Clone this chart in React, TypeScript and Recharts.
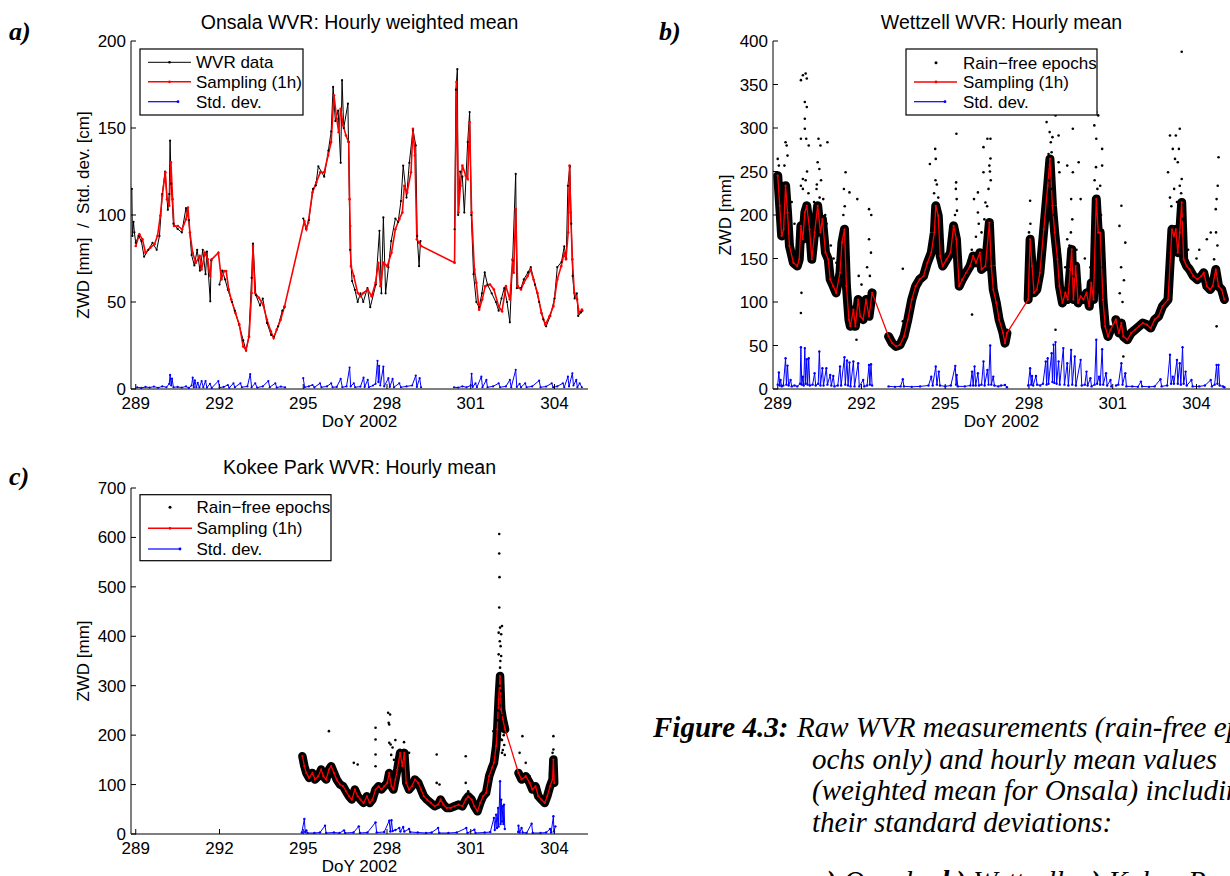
import React from 'react';
import { ComposedChart, Line, Scatter, XAxis, YAxis } from 'recharts';

type P = [number, number | null];

const SANS = '"Liberation Sans", Arial, Helvetica, sans-serif';
const SERIF = '"Liberation Serif", "Times New Roman", serif';

const dayTicks = [289, 292, 295, 298, 301, 304];
const xDomain: [number, number] = [288.83, 305.2];
const onsalaTicks = [0, 50, 100, 150, 200];
const wettzellTicks = [0, 50, 100, 150, 200, 250, 300, 350, 400];
const kokeeTicks = [0, 100, 200, 300, 400, 500, 600, 700];

// ---------- Onsala ----------
const onsalaWvr: P[] = [
  [288.86,115],[288.88,88],[288.92,96],[288.95,90],[289.0,84],[289.1,88],[289.2,85],[289.3,76],[289.45,80],[289.6,84],[289.75,80],[289.85,88],[289.95,112],[290.05,125],[290.15,103],[290.2,112],[290.23,142.8],[290.27,118],[290.35,95],[290.5,92],[290.65,90],[290.8,104],[290.9,97],[291.0,77],[291.1,71],[291.2,80],[291.3,68],[291.4,80],[291.5,66],[291.55,79],[291.67,50.4],[291.7,74],[291.75,null],
  [292.0,60],[292.1,68],[292.2,63],[292.3,57],[292.45,50],[292.55,45],[292.7,37],[292.85,28],[292.95,22],[293.05,30],[293.15,63.9],[293.2,83.5],[293.3,54],[293.45,48],[293.55,52],[293.7,38],[293.85,31],[293.95,30],[294.1,36],[294.25,45],[294.33,47],[294.4,null],
  [295.0,98],[295.1,92],[295.2,97],[295.35,115],[295.45,117],[295.54,128],[295.75,122],[295.9,137],[296.0,148],[296.07,173.6],[296.15,154],[296.25,160],[296.34,130],[296.39,177.5],[296.45,150],[296.6,164],[296.62,142],[296.68,80],[296.75,62],[296.85,57],[296.95,50],[297.05,55],[297.15,50],[297.3,58],[297.4,47],[297.6,60],[297.73,90.9],[297.8,55],[297.87,98.6],[297.95,55],[298.05,70],[298.15,85],[298.3,98],[298.4,96],[298.5,108],[298.58,128.4],[298.7,110],[298.8,130],[298.93,149],[299.03,140],[299.08,88],[299.15,70.6],[299.2,85],[299.25,null],
  [300.42,91.8],[300.47,172],[300.52,183.8],[300.55,100],[300.62,125],[300.7,122],[300.77,101.4],[300.89,141.9],[300.96,159.2],[301.02,100],[301.1,66],[301.2,50],[301.3,47],[301.4,55],[301.5,67],[301.6,60],[301.75,55],[301.9,50],[302.0,45],[302.1,52],[302.2,58],[302.3,50],[302.4,38.3],[302.5,74],[302.61,123.6],[302.65,58],[302.8,58],[302.9,63],[303.05,67],[303.15,70],[303.3,60],[303.45,50],[303.6,40],[303.7,36],[303.85,42],[304.0,52],[304.1,70],[304.25,73],[304.35,82],[304.42,75],[304.48,116.8],[304.55,128],[304.6,95],[304.65,65],[304.72,52],[304.8,55],[304.85,42],[304.95,44],[305.0,45],
];

const onsalaHourly: P[] = [
  [289.00,82.2],[289.13,88.9],[289.24,86.0],[289.35,78.3],[289.52,81.2],[289.67,83.2],[289.78,88.0],[289.88,99.5],[289.95,111.1],[290.06,124.5],[290.12,109.1],[290.20,105.3],[290.26,130.3],[290.32,109.1],[290.37,93.7],[290.51,93.7],[290.66,91.8],[290.80,97.6],[290.87,104.3],[290.94,89.9],[291.04,78.3],[291.15,72.6],[291.29,76.4],[291.36,68.7],[291.48,78.3],[291.58,74.5],[291.66,64.9],[291.72,74.5],[291.96,78.3],[292.07,62.9],[292.17,67.8],[292.24,67.8],[292.33,57.2],[292.42,51.4],[292.57,43.7],[292.71,37.0],[292.85,24.4],[292.95,22.5],[293.06,30.2],[293.15,55.2],[293.20,82.2],[293.27,55.2],[293.41,52.4],[293.56,48.5],[293.70,39.8],[293.84,33.1],[293.94,29.3],[294.05,34.1],[294.19,39.8],[294.33,47.5],
  [295.04,96.6],[295.11,91.8],[295.18,95.7],[295.33,113.0],[295.47,118.8],[295.61,124.5],[295.75,124.5],[295.89,134.2],[296.00,141.9],[296.10,168.8],[296.20,155.3],[296.27,147.6],[296.34,161.1],[296.43,151.5],[296.53,145.7],[296.63,141.9],[296.66,109.1],[296.68,93.7],[296.71,70.6],[296.81,64.9],[296.95,55.2],[297.05,53.3],[297.16,55.2],[297.31,57.2],[297.45,53.3],[297.59,61.0],[297.69,72.6],[297.77,59.1],[297.87,72.6],[298.01,70.6],[298.16,78.3],[298.30,91.8],[298.44,97.6],[298.55,101.4],[298.62,116.8],[298.72,113.0],[298.86,124.5],[298.93,149.6],[299.00,134.2],[299.07,86.0],[299.15,84.1],[299.22,82.2],
  [300.42,72.6],[300.49,176.5],[300.56,101.4],[300.63,116.8],[300.70,128.4],[300.82,122.6],[300.89,120.7],[300.96,153.4],[301.03,101.4],[301.13,68.7],[301.20,61.0],[301.30,45.6],[301.41,51.4],[301.52,59.1],[301.69,60.1],[301.83,57.2],[302.00,47.5],[302.12,44.7],[302.26,59.1],[302.40,51.4],[302.50,74.5],[302.54,66.8],[302.61,103.4],[302.68,59.1],[302.80,57.2],[302.90,61.0],[303.04,64.9],[303.14,68.7],[303.25,62.9],[303.39,55.2],[303.53,43.7],[303.67,37.0],[303.82,41.8],[303.96,47.5],[304.10,62.9],[304.24,70.6],[304.35,78.3],[304.41,74.5],[304.49,89.9],[304.54,128.4],[304.58,101.4],[304.64,74.5],[304.71,55.2],[304.81,51.4],[304.88,43.7],[304.98,45.6],
];

const onsalaStd: P[] = [
  [289.05,1],[289.2,0.6],[289.35,1.2],[289.5,0.8],[289.65,1.4],[289.8,0.7],[289.95,1.5],[290.1,1],[290.2,3],[290.23,8.1],[290.27,2],[290.3,6],[290.35,1],[290.5,1.2],[290.65,0.8],[290.8,1.5],[290.9,0.6],[291.0,2],[291.04,6.5],[291.08,1],[291.12,5],[291.17,1],[291.22,3.6],[291.28,0.9],[291.36,4.6],[291.42,1],[291.5,4.6],[291.55,0.8],[291.66,3],[291.72,0.6],[291.96,4.6],[292.0,0.8],[292.15,1.2],[292.3,2.3],[292.35,0.7],[292.5,3.3],[292.55,1],[292.75,3.3],[292.8,1],[293.0,1.5],[293.1,8.5],[293.15,1],[293.28,3.3],[293.35,0.8],[293.55,1.5],[293.75,4.6],[293.8,1],[294.0,3.3],[294.05,0.8],[294.2,1.4],[294.35,0.9],[294.4,null],
  [295.0,6.2],[295.05,1],[295.2,1.5],[295.33,2.3],[295.4,0.9],[295.6,3.3],[295.65,1],[295.85,1.5],[296.0,3.3],[296.05,1],[296.2,1.2],[296.34,5.8],[296.4,1],[296.55,1.5],[296.66,12.3],[296.7,1.5],[296.81,3.3],[296.86,1],[297.05,1.4],[297.16,6.5],[297.2,1.2],[297.31,5.2],[297.35,1],[297.5,2],[297.59,3],[297.66,16.2],[297.69,4],[297.72,13.3],[297.76,2],[297.87,12.9],[297.9,1.5],[298.05,6.2],[298.1,1.2],[298.2,5.8],[298.25,1],[298.44,3.3],[298.5,1],[298.7,1.5],[298.9,2],[299.03,7.7],[299.07,1.2],[299.17,6.2],[299.22,1],[299.3,null],
  [300.4,1],[300.55,0.8],[300.7,1.5],[300.85,1],[301.0,2],[301.03,8.7],[301.07,1.2],[301.17,3.3],[301.22,1],[301.38,7.1],[301.42,1],[301.56,5.2],[301.6,1],[301.8,1.5],[302.0,3.3],[302.05,1],[302.26,1.5],[302.4,5.2],[302.45,1],[302.61,11],[302.65,1.2],[302.75,3],[302.8,1],[302.95,3.3],[303.0,1],[303.2,1.5],[303.45,4.8],[303.5,1],[303.7,1.4],[303.9,3.3],[303.95,1],[304.1,1.5],[304.3,3.3],[304.35,1],[304.48,7.1],[304.52,1.5],[304.64,9],[304.68,2],[304.78,5.2],[304.82,1],[304.9,3.3],[304.98,1],
];

// ---------- Wettzell ----------
const wettzellHourly: P[] = [
  [289.00,245.2],[289.07,210.6],[289.14,175.9],[289.21,183.6],[289.28,233.7],[289.35,202.9],[289.42,164.4],[289.56,145.1],[289.70,141.3],[289.77,149.0],[289.83,187.5],[289.90,172.1],[289.97,202.9],[290.04,210.6],[290.14,183.6],[290.22,149.0],[290.32,179.8],[290.43,210.6],[290.53,179.8],[290.60,195.2],[290.71,156.7],[290.81,149.0],[290.88,125.9],[290.99,118.2],[291.09,110.5],[291.23,133.6],[291.30,168.2],[291.39,183.6],[291.46,118.2],[291.55,79.7],[291.60,72.0],[291.71,91.2],[291.78,72.0],[291.88,102.8],[291.96,83.5],[292.06,79.7],[292.16,102.8],[292.27,83.5],[292.38,110.5],
  [292.97,60.4],[293.10,52.7],[293.24,48.9],[293.38,50.8],[293.52,60.4],[293.66,79.7],[293.80,102.8],[293.94,118.2],[294.08,125.9],[294.22,129.7],[294.36,145.1],[294.50,156.7],[294.61,179.8],[294.66,210.6],[294.75,199.0],[294.82,152.8],[294.91,141.3],[295.05,149.0],[295.19,156.7],[295.30,187.5],[295.40,172.1],[295.50,118.2],[295.61,125.9],[295.75,133.6],[295.89,141.3],[296.00,152.8],[296.10,145.1],[296.24,156.7],[296.30,137.4],[296.44,141.3],[296.58,191.3],[296.65,141.3],[296.72,114.3],[296.83,98.9],[296.93,79.7],[297.07,64.3],[297.14,52.7],[297.21,64.3],
  [297.97,102.8],[298.04,172.1],[298.11,141.3],[298.18,110.5],[298.28,114.3],[298.39,133.6],[298.53,183.6],[298.67,233.7],[298.75,264.5],[298.84,210.6],[298.92,179.8],[299.02,149.0],[299.09,118.2],[299.20,98.9],[299.30,110.5],[299.39,102.8],[299.48,137.4],[299.53,160.5],[299.59,102.8],[299.67,141.3],[299.76,98.9],[299.85,106.6],[299.95,102.8],[300.06,110.5],[300.16,95.1],[300.23,122.0],[300.31,102.8],[300.41,218.3],[300.48,179.8],[300.55,179.8],[300.65,102.8],[300.73,72.0],[300.83,60.4],[300.92,68.1],
  [301.11,79.7],[301.22,64.3],[301.31,75.8],[301.38,60.4],[301.52,56.6],[301.66,64.3],[301.80,68.1],[301.94,72.0],[302.08,75.8],[302.22,73.9],[302.36,70.1],[302.50,79.7],[302.64,83.5],[302.78,95.1],[302.98,102.8],[303.12,183.6],[303.19,175.9],[303.26,183.6],[303.33,156.7],[303.40,179.8],[303.47,214.4],[303.54,149.0],[303.65,141.3],[303.75,137.4],[303.89,129.7],[304.03,125.9],[304.17,129.7],[304.26,133.6],[304.37,118.2],[304.49,114.3],[304.58,118.2],[304.69,137.4],[304.79,118.2],[304.90,114.3],[305.00,102.8],
];

const wettzellCoverage: [number, number][] = [[289.0, 292.4], [292.95, 297.22], [297.95, 300.95], [301.1, 305.0]];

const wettzellOutliers: P[] = [
  [289.00,264.5],[289.04,256.8],[289.28,283.7],[289.32,279.9],[289.35,268.3],[289.24,256.8],[289.18,233.7],[289.83,355.0],[289.90,360.7],[290.00,362.7],[290.04,356.9],[289.97,329.9],[290.04,324.2],[289.97,310.7],[289.97,299.1],[289.83,287.6],[290.02,287.6],[290.11,279.9],[289.90,241.4],[289.83,233.7],[289.85,110.5],[289.83,87.4],
  [290.46,287.6],[290.53,279.9],[290.78,283.7],[290.43,260.6],[290.49,252.9],[290.39,229.8],[290.63,218.3],[291.43,249.1],[291.37,229.8],[291.57,226.0],[291.48,183.6],[291.85,218.3],[291.82,56.6],[292.27,206.7],[292.27,172.1],[292.34,156.7],
  [289.45,200],[289.5,215],[289.6,190],[289.75,175],[289.9,230],[290.0,240],[290.05,250],[290.1,225],[290.15,200],[290.3,215],[290.4,235],[290.5,220],[290.55,240],[290.7,200],[290.75,190],[290.9,165],[291.0,150],[291.1,145],[291.2,160],[291.35,200],[291.4,210],[291.9,130],[292.0,120],[292.2,140],[292.3,130],[292.35,200],
  [293.48,138.2],[293.48,77.8],[294.64,276.0],[294.45,258.7],[294.66,264.5],[295.40,293.4],[295.39,237.5],[295.41,218.3],[295.96,85.5],[296.37,278.0],[296.51,287.6],[296.62,287.6],[296.58,256.8],[296.37,249.1],[296.03,218.3],[296.17,226.0],[296.44,214.4],[296.17,202.9],
  [294.6,225],[294.65,240],[294.7,235],[294.55,200],[294.75,220],[295.35,200],[295.42,205],[295.38,230],[295.95,160],[296.1,175],[296.2,190],[296.3,180],[296.4,195],[296.5,210],[296.55,230],[296.6,250],[296.62,265],[296.63,240],
  [298.04,216.4],[298.63,306.8],[298.74,295.3],[298.84,289.5],[298.95,314.5],[299.06,291.4],[298.78,283.7],[298.81,272.2],[299.06,260.6],[299.09,249.1],[299.37,256.8],[299.57,249.1],[299.78,260.6],[299.57,299.1],[299.51,218.3],[299.85,218.3],[299.37,172.1],[298.95,68.1],
  [298.05,190],[298.0,180],[298.6,245],[298.65,255],[298.7,270],[298.72,240],[298.8,230],[298.9,200],[299.0,180],[299.1,160],[299.3,140],[299.45,165],[299.5,180],[299.55,195],[299.6,130],[299.7,160],[300.0,150],[300.2,140],[300.35,240],[300.4,255],[300.45,230],[300.5,210],[300.58,200],[300.65,140],[300.7,120],
  [300.41,318.4],[300.48,314.5],[300.34,303.0],[300.41,287.6],[300.62,276.0],[300.62,256.8],[300.55,233.7],[301.31,210.6],[301.24,187.5],[301.45,168.2],[301.38,37.3],[301.25,110],[301.3,140],[301.35,100],[301.4,125],
  [303.05,291.4],[303.26,291.4],[303.15,276.0],[303.40,299.1],[303.47,387.7],[303.37,276.0],[303.23,264.5],[303.33,260.6],[302.98,249.1],[303.47,241.4],[303.40,233.7],[304.37,172.1],[304.51,179.8],[304.72,218.3],[304.76,233.7],[304.79,266.4],[304.69,206.7],[304.72,72.0],[304.63,149.0],
  [303.05,220],[303.1,210],[303.2,230],[303.3,215],[303.35,200],[303.45,225],[303.5,195],[303.6,170],[303.7,160],[304.0,150],[304.1,160],[304.7,180],[304.75,165],
];

const wettzellStd: P[] = [
  [289.0,5],[289.04,18.9],[289.07,4],[289.1,10.4],[289.14,3],[289.2,4],[289.28,35.4],[289.31,5],[289.35,26.9],[289.39,4],[289.46,10.4],[289.5,3],[289.6,4],[289.7,3],[289.8,6],[289.83,48.1],[289.86,5],[289.9,14],[289.93,4],[289.97,47],[290.0,6],[290.04,34.3],[290.07,5],[290.11,35.4],[290.15,4],[290.25,5],[290.32,18.1],[290.36,4],[290.45,6],[290.49,43.1],[290.53,4],[290.6,23.9],[290.64,4],[290.74,23.9],[290.78,5],[290.88,16.2],[290.92,4],[290.99,15],[291.03,3],[291.15,4],[291.23,25.8],[291.27,4],[291.39,36.6],[291.42,5],[291.48,32.7],[291.52,4],[291.57,30.4],[291.61,3],[291.71,31.6],[291.75,3],[291.88,29.6],[291.92,3],[292.06,10.4],[292.1,3],[292.2,4],[292.27,27.7],[292.3,5],[292.34,28.5],[292.38,4],[292.45,null],
  [292.97,3],[293.2,2.5],[293.4,3],[293.48,11.2],[293.52,3],[293.8,2.5],[294.1,3],[294.4,4],[294.5,14.2],[294.55,4],[294.66,25.8],[294.7,5],[294.77,20],[294.81,4],[295.0,3],[295.2,4],[295.36,26.6],[295.39,5],[295.41,16.2],[295.45,3],[295.7,3],[295.9,4],[295.96,20],[296.0,4],[296.05,25.8],[296.09,4],[296.17,18.1],[296.21,4],[296.3,5],[296.37,31.6],[296.41,4],[296.51,21.9],[296.55,5],[296.61,50],[296.65,5],[296.72,14.2],[296.76,4],[296.9,3],[297.0,4],[297.14,4.6],[297.21,2],[297.3,null],
  [297.97,4],[298.04,23.9],[298.08,5],[298.11,15],[298.15,4],[298.25,15],[298.29,5],[298.4,4],[298.5,6],[298.6,31.6],[298.63,5],[298.67,35.4],[298.7,6],[298.81,41.2],[298.84,8],[298.88,50.8],[298.91,7],[298.95,53.9],[298.99,6],[299.06,31.6],[299.1,5],[299.23,47],[299.27,5],[299.37,29.6],[299.41,4],[299.51,45],[299.55,5],[299.64,37.3],[299.68,4],[299.85,33.5],[299.89,4],[300.0,5],[300.06,20],[300.1,4],[300.2,12.3],[300.24,3],[300.35,5],[300.41,56.6],[300.44,6],[300.51,14.2],[300.55,5],[300.62,45.8],[300.66,5],[300.76,18.1],[300.8,4],[300.92,10.4],[300.95,3],[301.0,null],
  [301.12,4],[301.2,5],[301.31,29.6],[301.35,5],[301.45,18.1],[301.49,3],[301.7,3],[301.9,2.5],[302.01,8.5],[302.05,3],[302.3,2.5],[302.5,3],[302.71,11.2],[302.75,3],[302.95,4],[303.05,39.3],[303.09,6],[303.15,14.2],[303.19,6],[303.3,33.5],[303.33,6],[303.4,29.6],[303.44,5],[303.5,48.1],[303.54,6],[303.61,20],[303.65,4],[303.82,10.4],[303.86,3],[304.1,3],[304.3,4],[304.51,10.4],[304.55,3],[304.65,5],[304.72,27.7],[304.75,6],[304.79,27.7],[304.83,4],[304.95,3],[305.0,2],
];

// ---------- Kokee Park ----------
const kokeeHourly: P[] = [
  [294.97,157.4],[295.04,137.2],[295.11,123.6],[295.21,113.5],[295.33,123.6],[295.42,110.1],[295.54,116.9],[295.64,130.4],[295.72,116.9],[295.82,110.1],[295.92,130.4],[296.00,137.2],[296.10,123.6],[296.20,110.1],[296.32,100.0],[296.43,96.6],[296.53,86.5],[296.64,76.4],[296.74,69.6],[296.85,89.9],[296.95,76.4],[297.05,69.6],[297.16,62.8],[297.28,76.4],[297.38,62.8],[297.48,69.6],[297.59,89.9],[297.70,96.6],[297.80,89.9],[297.90,96.6],[298.01,103.4],[298.08,123.6],[298.16,96.6],[298.23,89.9],[298.30,110.1],[298.37,130.4],[298.47,164.2],[298.55,137.2],[298.62,164.2],[298.69,103.4],[298.79,89.9],[298.89,96.6],[299.00,110.1],[299.12,103.4],[299.22,89.9],[299.32,76.4],[299.43,69.6],[299.57,62.8],[299.71,56.1],[299.83,59.5],[299.92,69.6],[300.02,59.5],[300.14,52.7],[300.28,52.7],[300.42,56.1],[300.56,59.5],[300.70,56.1],[300.82,69.6],[300.91,76.4],[301.03,69.6],[301.13,56.1],[301.24,45.9],[301.34,62.8],[301.44,76.4],[301.55,83.1],[301.66,116.9],[301.76,133.8],[301.83,143.9],[301.91,177.7],[301.95,211.5],[302.00,272.3],[302.05,319.6],[302.09,252.0],[302.15,231.8],[302.23,211.5],
  [302.71,123.6],[302.82,110.1],[302.97,116.9],[303.11,103.4],[303.21,89.9],[303.32,96.6],[303.42,76.4],[303.53,69.6],[303.65,62.8],[303.74,76.4],[303.84,96.6],[303.93,110.1],[303.96,150.7],[303.99,103.4],
];

const kokeeCoverage: [number, number][] = [[294.95, 302.25], [302.7, 304.0]];

const kokeeOutliers: P[] = [
  [295.92,208.1],[296.81,143.9],[296.95,140.5],[297.59,214.9],[297.59,191.2],[297.59,160.8],[297.59,137.2],[298.04,245.3],[298.11,241.9],[298.06,225.0],[298.08,221.6],[298.08,184.5],[298.13,181.1],[298.61,185.8],[298.79,164.2],[299.17,106.8],[299.78,160.8],[299.78,103.4],[299.88,100.0],[300.82,157.4],[300.82,103.4],[300.91,86.5],
  [298.15,160],[298.2,175],[298.25,150],[298.3,190],
  [302.02,606.8],[302.02,567.6],[302.03,519.6],[302.02,458.1],[302.05,417.6],[302.12,420.9],[302.09,404.1],[302.00,407.4],[302.00,363.5],[302.09,360.1],[302.05,336.5],[301.98,299.3],[302.12,279.1],[301.91,258.8],[302.05,245.3],[302.12,211.5],[301.95,164.2],[301.81,208.1],[302.12,164.2],[302.09,191.2],
  [302.0,230],[302.05,260],[302.08,290],[302.1,240],[302.12,190],[302.15,170],[302.18,200],[302.2,180],[302.22,160],[301.98,250],[301.95,230],[302.03,300],[302.06,350],[302.07,380],[302.04,390],
  [302.85,198.0],[302.75,164.2],[302.97,143.9],[303.11,116.9],[303.96,198.0],[303.96,170.9],[303.93,164.2],[303.84,123.6],
];

const kokeeStd: P[] = [
  [294.95,3],[295.04,30.4],[295.07,4],[295.11,7.4],[295.15,2],[295.4,2],[295.6,3],[295.78,16.9],[295.82,2],[296.1,3],[296.3,2],[296.46,7.4],[296.5,2],[296.8,3],[296.99,15.5],[297.03,2],[297.3,3],[297.59,23.6],[297.63,3],[297.9,4],[298.08,27],[298.12,5],[298.16,27.7],[298.2,6],[298.3,8],[298.44,12.2],[298.48,5],[298.58,14.2],[298.62,5],[298.79,10.1],[298.83,4],[299.1,3],[299.4,2],[299.6,3],[299.83,12.2],[299.87,2],[300.2,2],[300.5,3],[300.84,12.2],[300.88,2],[301.13,8.8],[301.17,2],[301.5,3],[301.7,4],[301.83,32.4],[301.86,8],[301.91,39.2],[301.94,12],[301.98,52.7],[302.0,15],[302.05,106.8],[302.07,20],[302.09,69.6],[302.12,25],[302.15,56.1],[302.17,20],[302.19,59.5],[302.22,10],[302.25,null],
  [302.7,4],[302.71,16.9],[302.75,3],[302.82,12.2],[302.86,3],[303.0,2],[303.18,20.9],[303.22,2],[303.5,2],[303.7,3],[303.84,10.1],[303.88,3],[303.96,35.8],[303.98,5],[304.03,15.5],
];

// ---------- helpers ----------
const rows = (pts: P[]) => pts.map(([x, y]) => ({ x, y }));
const bandRows = (pts: P[], cov: [number, number][]) => {
  const out: { x: number; y: number | null }[] = [];
  cov.forEach(([a, b]) => {
    pts.forEach(([x, y]) => {
      if (x >= a - 1e-9 && x <= b + 1e-9) out.push({ x, y });
    });
    out.push({ x: b + 0.01, y: null });
  });
  return out;
};

const dotShape = (props: any) => <circle cx={props.cx} cy={props.cy} r={1.3} fill="#000" />;

const tickStyle = { fill: '#000', fontSize: 17, fontFamily: SANS };

function Panel(props: {
  left: number; top: number; width: number; height: number;
  margin: { top: number; right: number; bottom: number; left: number };
  yDomain: [number, number]; yTicks: number[]; series: React.ReactNode[];
}) {
  const { left, top, width, height, margin, yDomain, yTicks, series } = props;
  return (
    <div style={{ position: 'absolute', left, top, width, height }}>
      <ComposedChart width={width} height={height} margin={margin}>
        <XAxis xAxisId="b" dataKey="x" type="number" domain={xDomain} ticks={dayTicks} allowDataOverflow
          interval={0} height={30} tickSize={-5} tickMargin={13}
          axisLine={{ stroke: '#000', strokeWidth: 1 }} tickLine={{ stroke: '#000' }} tick={tickStyle} />
        <XAxis xAxisId="t" orientation="top" dataKey="x" type="number" domain={xDomain} ticks={dayTicks} allowDataOverflow
          interval={0} height={0} tickSize={-5} tick={false}
          axisLine={{ stroke: '#000', strokeWidth: 1 }} tickLine={{ stroke: '#000' }} />
        <YAxis yAxisId="l" type="number" domain={yDomain} ticks={yTicks} allowDataOverflow interval={0}
          width={50} tickSize={-5} tickMargin={10}
          axisLine={{ stroke: '#000', strokeWidth: 1 }} tickLine={{ stroke: '#000' }} tick={tickStyle} />
        <YAxis yAxisId="r" orientation="right" type="number" domain={yDomain} ticks={yTicks} allowDataOverflow interval={0}
          width={0} tickSize={-5} tick={false}
          axisLine={{ stroke: '#000', strokeWidth: 1 }} tickLine={{ stroke: '#000' }} />
        {series}
      </ComposedChart>
    </div>
  );
}

const common = { xAxisId: 'b', yAxisId: 'l', isAnimationActive: false, dataKey: 'y', type: 'linear' as const, activeDot: false, legendType: 'none' as const };

function LegendBox(p: { x: number; y: number; w: number; h: number; rows: number[]; lineX: [number, number]; textX: number; first: 'line' | 'dot'; dotX: number; labels: string[]; blueEnd: number }) {
  const { x, y, w, h, rows: r, lineX, textX, first, dotX, labels, blueEnd } = p;
  return (
    <g>
      <rect x={x} y={y} width={w} height={h} fill="#fff" stroke="#000" strokeWidth={1.2} />
      {first === 'line' ? (
        <g>
          <line x1={lineX[0]} x2={lineX[1]} y1={r[0]} y2={r[0]} stroke="#000" strokeWidth={1} />
          <circle cx={dotX} cy={r[0]} r={1.3} fill="#000" />
        </g>
      ) : (
        <circle cx={dotX} cy={r[0]} r={1.5} fill="#000" />
      )}
      <line x1={lineX[0]} x2={lineX[1]} y1={r[1]} y2={r[1]} stroke="#ff0000" strokeWidth={1.6} />
      <circle cx={dotX} cy={r[1]} r={1.4} fill="#ff0000" />
      <line x1={lineX[0]} x2={blueEnd} y1={r[2]} y2={r[2]} stroke="#0000ff" strokeWidth={1.2} />
      <circle cx={blueEnd} cy={r[2]} r={1.4} fill="#0000ff" />
      {labels.map((t, i) => (
        <text key={t} x={textX} y={r[i]} dy="0.35em" fontSize={17} fontFamily={SANS} fill="#000">{t}</text>
      ))}
    </g>
  );
}

export default function App() {
  const onsalaSeries = [
    <Line key="w" {...common} data={rows(onsalaWvr)} stroke="#000" strokeWidth={1} dot={{ r: 1.1, fill: '#000', stroke: 'none' }} />,
    <Line key="h" {...common} data={rows(onsalaHourly)} stroke="#ff0000" strokeWidth={1.6} dot={{ r: 1.3, fill: '#ff0000', stroke: 'none' }} />,
    <Line key="s" {...common} data={rows(onsalaStd)} stroke="#0000ff" strokeWidth={1} dot={{ r: 1.1, fill: '#0000ff', stroke: 'none' }} />,
  ];
  const wettzellSeries = [
    <Line key="band" {...common} data={bandRows(wettzellHourly, wettzellCoverage)} stroke="#000" strokeWidth={9} strokeLinejoin="round" strokeLinecap="round" dot={false} />,
    <Scatter key="o" xAxisId="b" yAxisId="l" data={rows(wettzellOutliers)} dataKey="y" isAnimationActive={false} shape={dotShape} legendType="none" />,
    <Line key="h" {...common} data={rows(wettzellHourly)} stroke="#ff0000" strokeWidth={1.3} dot={{ r: 1.1, fill: '#ff0000', stroke: 'none' }} />,
    <Line key="s" {...common} data={rows(wettzellStd)} stroke="#0000ff" strokeWidth={1} dot={{ r: 1.2, fill: '#0000ff', stroke: 'none' }} />,
  ];
  const kokeeSeries = [
    <Line key="band" {...common} data={bandRows(kokeeHourly, kokeeCoverage)} stroke="#000" strokeWidth={8.5} strokeLinejoin="round" strokeLinecap="round" dot={false} />,
    <Scatter key="o" xAxisId="b" yAxisId="l" data={rows(kokeeOutliers)} dataKey="y" isAnimationActive={false} shape={dotShape} legendType="none" />,
    <Line key="h" {...common} data={rows(kokeeHourly)} stroke="#ff0000" strokeWidth={1.3} dot={{ r: 1.1, fill: '#ff0000', stroke: 'none' }} />,
    <Line key="s" {...common} data={rows(kokeeStd)} stroke="#0000ff" strokeWidth={1} dot={{ r: 1.2, fill: '#0000ff', stroke: 'none' }} />,
  ];

  return (
    <div style={{ position: 'absolute', left: 0, top: 0, width: 1230, height: 876, overflow: 'hidden', background: '#fff' }}>
      <Panel left={0} top={0} width={620} height={430} margin={{ top: 41, right: 32, bottom: 11, left: 81 }}
        yDomain={[0, 200]} yTicks={onsalaTicks} series={onsalaSeries} />
      <Panel left={620} top={0} width={610} height={430} margin={{ top: 41, right: 0, bottom: 11, left: 103 }}
        yDomain={[0, 400]} yTicks={wettzellTicks} series={wettzellSeries} />
      <Panel left={0} top={440} width={620} height={436} margin={{ top: 48, right: 32, bottom: 12, left: 81 }}
        yDomain={[0, 700]} yTicks={kokeeTicks} series={kokeeSeries} />

      <svg width={1230} height={876} style={{ position: 'absolute', left: 0, top: 0, pointerEvents: 'none' }}>
        <text x={9} y={40} fontFamily={SERIF} fontSize={26} fontWeight="bold" fontStyle="italic">a)</text>
        <text x={659} y={40} fontFamily={SERIF} fontSize={26} fontWeight="bold" fontStyle="italic">b)</text>
        <text x={9} y={485} fontFamily={SERIF} fontSize={26} fontWeight="bold" fontStyle="italic">c)</text>

        <text x={359.5} y={29} textAnchor="middle" fontFamily={SANS} fontSize={19.5}>Onsala WVR: Hourly weighted mean</text>
        <text x={1001.5} y={29} textAnchor="middle" fontFamily={SANS} fontSize={19.5}>Wettzell WVR: Hourly mean</text>
        <text x={359.5} y={474} textAnchor="middle" fontFamily={SANS} fontSize={19.5}>Kokee Park WVR: Hourly mean</text>

        <text x={83} y={215} dy="0.35em" textAnchor="middle" transform="rotate(-90 83 215)" fontFamily={SANS} fontSize={17} style={{ whiteSpace: 'pre' }}>{'ZWD [mm]  /  Std. dev. [cm]'}</text>
        <text x={725} y={215} dy="0.35em" textAnchor="middle" transform="rotate(-90 725 215)" fontFamily={SANS} fontSize={17}>ZWD [mm]</text>
        <text x={83} y={661} dy="0.35em" textAnchor="middle" transform="rotate(-90 83 661)" fontFamily={SANS} fontSize={17}>ZWD [mm]</text>
        <text x={359.5} y={427} textAnchor="middle" fontFamily={SANS} fontSize={17}>DoY 2002</text>
        <text x={1001.5} y={427} textAnchor="middle" fontFamily={SANS} fontSize={17}>DoY 2002</text>
        <text x={359.5} y={872} textAnchor="middle" fontFamily={SANS} fontSize={17}>DoY 2002</text>

        <LegendBox x={140} y={49} w={163} h={66} rows={[62.3, 81.8, 101.7]} lineX={[148, 191]} textX={196} first="line" dotX={169.5}
          labels={['WVR data', 'Sampling (1h)', 'Std. dev.']} blueEnd={178} />
        <LegendBox x={906} y={49} w={191} h={66} rows={[62.7, 82, 101.7]} lineX={[914, 957]} textX={963} first="dot" dotX={936}
          labels={['Rain\u2212free epochs', 'Sampling (1h)', 'Std. dev.']} blueEnd={945} />
        <LegendBox x={140} y={494.7} w={191} h={66} rows={[507.3, 528.3, 549]} lineX={[148, 192]} textX={196.5} first="dot" dotX={170}
          labels={['Rain\u2212free epochs', 'Sampling (1h)', 'Std. dev.']} blueEnd={180} />

        <g fontFamily={SERIF} fontSize={29} fontStyle="italic" fill="#000">
          <text x={653} y={737}><tspan fontWeight="bold">Figure 4.3:</tspan></text>
          <text x={797} y={737}>Raw WVR measurements (rain-free ep-</text>
          <text x={812} y={768.5}>ochs only) and hourly mean values</text>
          <text x={812} y={800}>(weighted mean for Onsala) including</text>
          <text x={812} y={831.5}>their standard deviations:</text>
          <text x={812} y={891}><tspan fontWeight="bold">a)</tspan> Onsala, <tspan fontWeight="bold">b)</tspan> Wettzell, <tspan fontWeight="bold">c)</tspan> Kokee Park</text>
        </g>
      </svg>
    </div>
  );
}
